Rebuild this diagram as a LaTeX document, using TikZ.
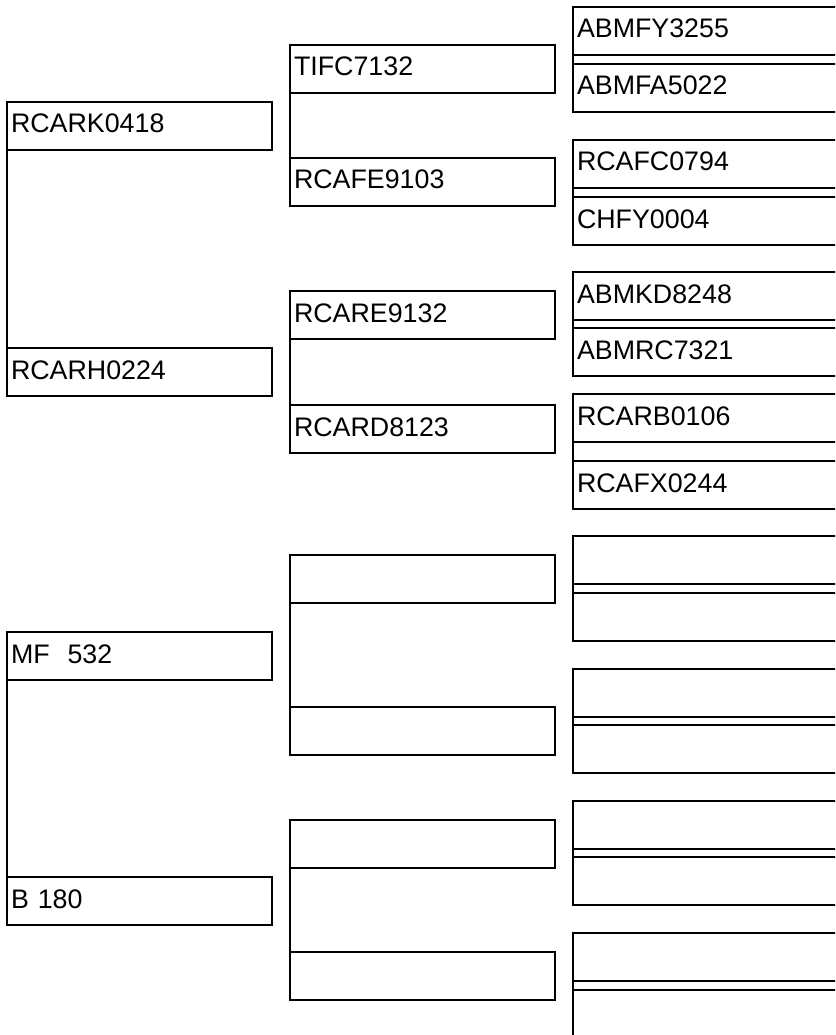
\documentclass[tikz,border=0pt]{standalone}
\usepackage{fontspec}
\setmainfont{Liberation Sans}

\begin{document}
\begin{tikzpicture}[x=1pt, y=-1pt,
    box/.style={draw, line width=2.4pt, outer sep=0pt, anchor=north west, minimum height=48pt, text width=257pt, align=left, inner xsep=4pt, inner ysep=0pt, text height=19pt, text depth=5pt, font=\fontsize{26.8}{30}\selectfont},
    wide/.style={box, text width=272pt},
    link/.style={line width=2.4pt}
]
\useasboundingbox (0,0) rectangle (835,1035);
\clip (0,0) rectangle (835,1035);

% First column
\node[box] (p1) at (7,102) {RCARK0418};
\node[box] (p2) at (7,348) {RCARH0224};
\node[box] (p3) at (7,632) {MF~~532};
\node[box] (p4) at (7,877) {B 180};

% Second column
\node[box] (g1) at (290,45) {TIFC7132};
\node[box] (g2) at (290,158) {RCAFE9103};
\node[box] (g3) at (290,291) {RCARE9132};
\node[box] (g4) at (290,405) {RCARD8123};
\node[box] (g5) at (290,555) {};
\node[box] (g6) at (290,707) {};
\node[box] (g7) at (290,820) {};
\node[box] (g8) at (290,952) {};

% Third column (runs off the right edge)
\node[wide] (gg1) at (573,7) {ABMFY3255};
\node[wide] (gg2) at (573,64) {ABMFA5022};
\node[wide] (gg3) at (573,140) {RCAFC0794};
\node[wide] (gg4) at (573,197) {CHFY0004};
\node[wide] (gg5) at (573,272) {ABMKD8248};
\node[wide] (gg6) at (573,328) {ABMRC7321};
\node[wide] (gg7) at (573,394) {RCARB0106};
\node[wide] (gg8) at (573,461) {RCAFX0244};
\node[wide] (gg9) at (573,536) {};
\node[wide] (gg10) at (573,593) {};
\node[wide] (gg11) at (573,669) {};
\node[wide] (gg12) at (573,725) {};
\node[wide] (gg13) at (573,801) {};
\node[wide] (gg14) at (573,857) {};
\node[wide] (gg15) at (573,933) {};
\node[wide] (gg16) at (573,990) {};

% Pair links along the left edges
\draw[link] (p1.south west) -- (p2.north west);
\draw[link] (p3.south west) -- (p4.north west);
\draw[link] (g1.south west) -- (g2.north west);
\draw[link] (g3.south west) -- (g4.north west);
\draw[link] (g5.south west) -- (g6.north west);
\draw[link] (g7.south west) -- (g8.north west);
\draw[link] (gg1.south west) -- (gg2.north west);
\draw[link] (gg3.south west) -- (gg4.north west);
\draw[link] (gg5.south west) -- (gg6.north west);
\draw[link] (gg7.south west) -- (gg8.north west);
\draw[link] (gg9.south west) -- (gg10.north west);
\draw[link] (gg11.south west) -- (gg12.north west);
\draw[link] (gg13.south west) -- (gg14.north west);
\draw[link] (gg15.south west) -- (gg16.north west);
\end{tikzpicture}
\end{document}
